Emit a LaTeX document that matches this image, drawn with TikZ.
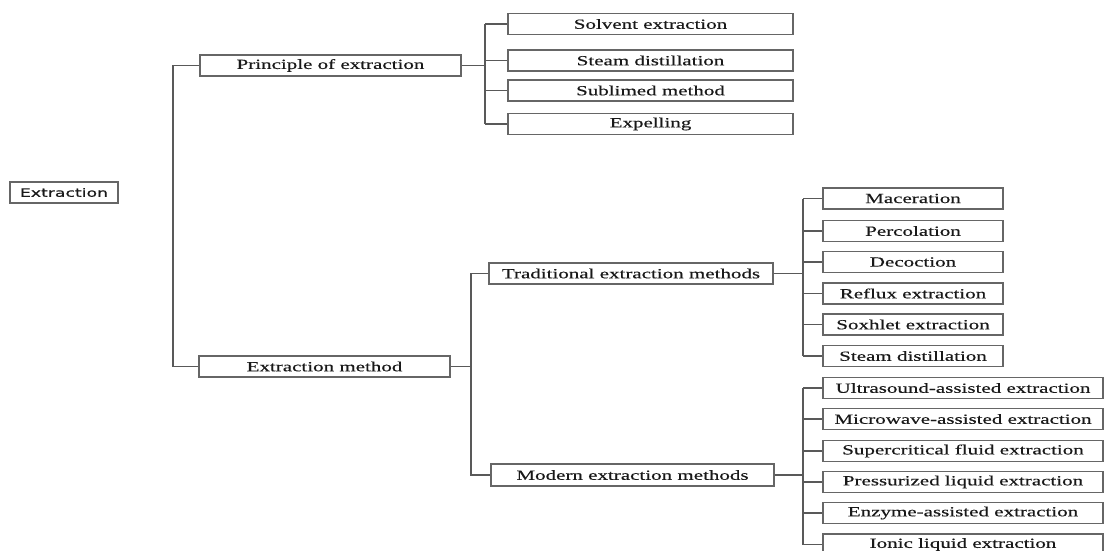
\documentclass[tikz,border=0pt]{standalone}
\usepackage{fontspec}
\setmainfont{Liberation Serif}[FakeStretch=1.5,FakeBold=0.4]
\newfontfamily\rootfont{DejaVu Sans}[FakeStretch=1.5,FakeBold=0.6]
\begin{document}
\begin{tikzpicture}[x=1pt,y=-1pt,
  box/.style={draw=black!60, line width=1.1pt, rectangle, inner sep=0pt,
    minimum height=21pt, text=black!90, font=\fontsize{14}{16}\selectfont},
  rootbox/.style={box, font=\rootfont\fontsize{11.5}{14}\selectfont},
  link/.style={draw=black!65, line width=1.2pt}]
\useasboundingbox (0,0) rectangle (1114,551);
\clip (0,0) rectangle (1114,551);

% root and first level
\node[rootbox, minimum width=108pt] (ext) at (64,192.5) {Extraction};
\node[box, minimum width=261pt] (pri) at (330.5,65.5) {Principle of extraction};
\node[box, minimum width=251pt] (meth) at (324.5,366.5) {Extraction method};

% principles
\begin{scope}[every node/.append style={minimum width=285pt, minimum height=20.5pt}]
\node[box] (solv) at (650.5,24) {Solvent extraction};
\node[box] (steamA) at (650.5,60.5) {Steam distillation};
\node[box] (subl) at (650.5,90.5) {Sublimed method};
\node[box] (expel) at (650.5,124) {Expelling};
\end{scope}

% method groups
\node[box, minimum width=284pt] (trad) at (631,273.5) {Traditional extraction methods};
\node[box, minimum width=283pt, minimum height=22pt] (mod) at (632.5,475) {Modern extraction methods};

% traditional methods
\begin{scope}[every node/.append style={minimum width=180pt, minimum height=20.5pt}]
\node[box] (mac) at (913,198.5) {Maceration};
\node[box] (perc) at (913,231) {Percolation};
\node[box] (deco) at (913,262) {Decoction};
\node[box] (refl) at (913,293.5) {Reflux extraction};
\node[box] (soxh) at (913,324.5) {Soxhlet extraction};
\node[box] (steamB) at (913,356) {Steam distillation};
\end{scope}

% modern methods
\begin{scope}[every node/.append style={minimum width=280pt}]
\node[box] (ultra) at (963,388) {Ultrasound-assisted extraction};
\node[box] (micro) at (963,419) {Microwave-assisted extraction};
\node[box] (super) at (963,451) {Supercritical fluid extraction};
\node[box] (press) at (963,482) {Pressurized liquid extraction};
\node[box] (enzy) at (963,513) {Enzyme-assisted extraction};
\node[box] (ionic) at (963,544.5) {Ionic liquid extraction};
\end{scope}

% bus lines
\coordinate (b0) at (173,0);
\coordinate (b1) at (485,0);
\coordinate (b2) at (471,0);
\coordinate (b3) at (803,0);

\draw[link] (pri.west) -- (pri.west -| b0) -- (meth.west -| b0) -- (meth.west);

\draw[link] (pri.east) -- (pri.east -| b1);
\draw[link] (solv.west -| b1) -- (expel.west -| b1);
\foreach \c in {solv,steamA,subl,expel} \draw[link] (\c.west -| b1) -- (\c.west);

\draw[link] (meth.east) -- (meth.east -| b2);
\draw[link] (trad.west) -- (trad.west -| b2) -- (mod.west -| b2) -- (mod.west);

\draw[link] (trad.east) -- (trad.east -| b3);
\draw[link] (mac.west -| b3) -- (steamB.west -| b3);
\foreach \c in {mac,perc,deco,refl,soxh,steamB} \draw[link] (\c.west -| b3) -- (\c.west);

\draw[link] (mod.east) -- (mod.east -| b3);
\draw[link] (ultra.west -| b3) -- (ionic.west -| b3);
\foreach \c in {ultra,micro,super,press,enzy,ionic} \draw[link] (\c.west -| b3) -- (\c.west);
\end{tikzpicture}
\end{document}
